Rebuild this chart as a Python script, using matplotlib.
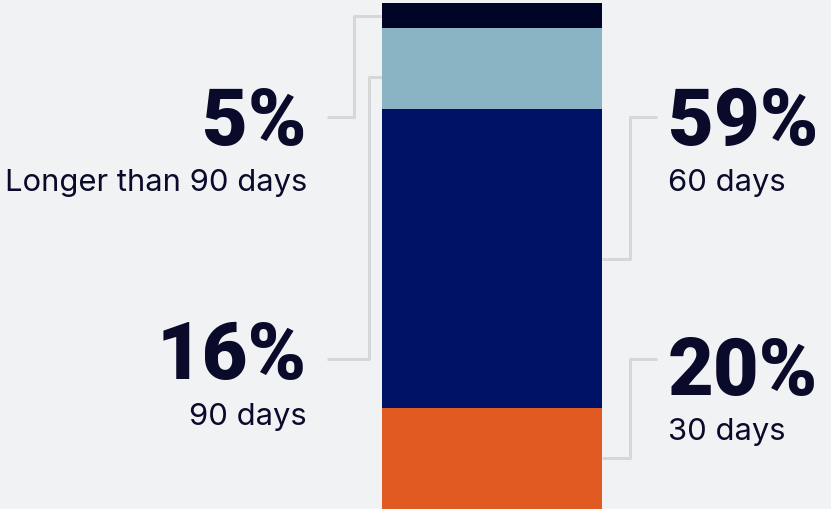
import matplotlib
matplotlib.use("Agg")
import matplotlib.pyplot as plt

# stacked from the bottom up
labels = ["30 days", "60 days", "90 days", "Longer than 90 days"]
values = [20, 59, 16, 5]
pct_text = ["20%", "59%", "16%", "5%"]
colors = ["#e05a22", "#001266", "#8ab3c4", "#000426"]

BG = "#f1f2f4"
INK = "#0a0a2a"
LEADER = "#d6d7d9"

fig = plt.figure(figsize=(8.31, 5.09), dpi=100, facecolor=BG)
ax = fig.add_axes([0, 0, 1, 1])
ax.set_facecolor(BG)
px = 5.06  # pixels per percent
ax.set_xlim(0, 831)
ax.set_ylim(0, 509 / px)
ax.axis("off")

bar_x, bar_w = 492, 220
bottom = 0
bottoms = []
for v, c in zip(values, colors):
    ax.bar(bar_x, v, width=bar_w, bottom=bottom, color=c, linewidth=0, zorder=3)
    bottoms.append(bottom)
    bottom += v

left_edge = bar_x - bar_w / 2
right_edge = bar_x + bar_w / 2

# label placement: (side, leader y, text y, elbow x, fraction into segment)
layout = {
    0: ("right", 29.6, 28.2, 630, 0.5),
    1: ("right", 77.5, 77.5, 630, 0.5),
    2: ("left", 29.6, 31.2, 369, 0.4),
    3: ("left", 77.5, 77.5, 354, 0.5),
}

for i, (side, ly, ty_txt, ex, frac) in layout.items():
    ty = bottoms[i] + values[i] * frac
    if side == "left":
        xs = [327, ex, ex, left_edge]
        tx, ha = 307, "right"
    else:
        xs = [right_edge, ex, ex, 657]
        tx, ha = 668, "left"
    ys = [ly, ly, ty, ty] if side == "left" else [ty, ty, ly, ly]
    ax.plot(xs, ys, color=LEADER, lw=2.2, solid_capstyle="butt", zorder=2)
    ax.text(tx, ty_txt - 5.6, pct_text[i], ha=ha, va="baseline", color=INK,
            family="Roboto", weight="black", fontsize=57)
    ax.text(tx, ty_txt - 14.6, labels[i], ha=ha, va="baseline", color=INK,
            family="Inter", fontsize=22.3)

fig.savefig("out.png", dpi=100, facecolor=BG)
